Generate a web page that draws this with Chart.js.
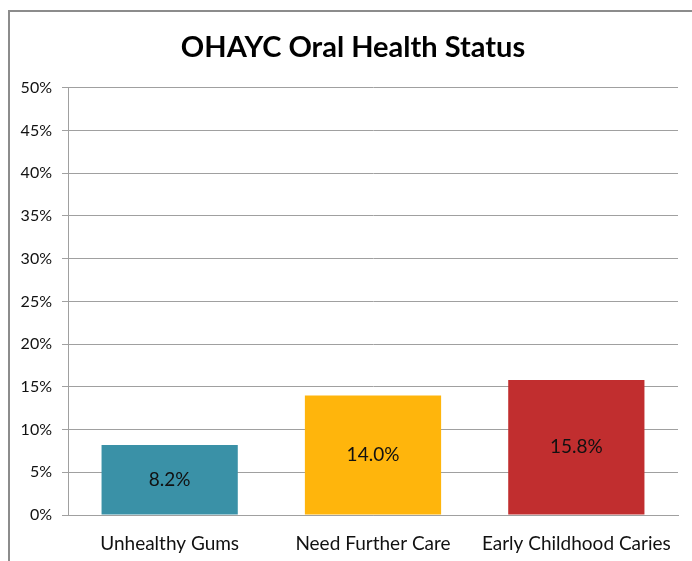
<!DOCTYPE html>
<html>
<head>
<meta charset="utf-8">
<script src="https://cdn.jsdelivr.net/npm/chart.js@4.4.1/dist/chart.umd.min.js"></script>
<style>
    body { margin: 0; background: #fff; }
    #marco { position: absolute; left: 8px; top: 10px; width: 720px; height: 600px; border: 2px solid #8c8c8c; }
    #grafico { position: absolute; left: 0; top: 0; }
</style>
</head>
<body>
<div id="marco"></div>
<canvas id="grafico" width="692" height="561"></canvas>
<script>
// Datos del gráfico
const categorias = ["Unhealthy Gums", "Need Further Care", "Early Childhood Caries"];
const valores = [8.2, 14.0, 15.8];
const colores = ["#3a91a7", "#ffb50c", "#c12e2f"];
const TITULO = "OHAYC Oral Health Status";

const FUENTE = "Lato, 'Open Sans', sans-serif";
const GRIS = "#a0a0a0";

// Etiquetas de valor centradas dentro de cada barra
const etiquetasBarras = {
    id: "etiquetasBarras",
    afterDatasetsDraw(chart) {
        const ctx = chart.ctx;
        const meta = chart.getDatasetMeta(0);
        ctx.save();
        ctx.font = "19px " + FUENTE;
        ctx.fillStyle = "#111";
        ctx.textAlign = "center";
        ctx.textBaseline = "middle";
        meta.data.forEach((bar, i) => {
            const y = (bar.y + bar.base) / 2;
            ctx.fillText(valores[i].toFixed(1) + "%", bar.x, y);
        });
        ctx.restore();
    }
};

new Chart(document.getElementById("grafico").getContext("2d"), {
    type: "bar",
    data: {
        labels: categorias,
        datasets: [{ data: valores, backgroundColor: colores, barPercentage: 0.67, categoryPercentage: 1 }]
    },
    options: {
        responsive: false,
        animation: false,
        layout: { padding: { left: 14, right: 0, top: 0, bottom: 0 } },
        plugins: {
            legend: { display: false },
            tooltip: { enabled: false },
            title: {
                display: true,
                text: TITULO,
                color: "#000",
                font: { family: FUENTE, size: 29, weight: "bold" },
                padding: { top: 30, bottom: 23 }
            }
        },
        scales: {
            x: {
                grid: { display: false, drawTicks: false },
                border: { display: true, color: GRIS },
                ticks: { color: "#111", font: { family: FUENTE, size: 19 }, padding: 17, maxRotation: 0 },
                afterFit(scale) { scale.height = 46; }
            },
            y: {
                min: 0,
                max: 50,
                grid: { color: GRIS, tickLength: 6, drawTicks: true },
                border: { display: true, color: GRIS },
                ticks: {
                    stepSize: 5,
                    color: "#111",
                    padding: 10,
                    font: { family: FUENTE, size: 16 },
                    callback: v => v + "%"
                },
                afterFit(scale) { scale.width = 54; }
            },
            // eje vacío a la derecha, solo reserva margen
            derecha: {
                position: "right",
                min: 0,
                max: 1,
                grid: { display: false, drawTicks: false },
                border: { display: false },
                ticks: { display: false },
                afterFit(scale) { scale.width = 14; }
            }
        }
    },
    plugins: [etiquetasBarras]
});
</script>
</body>
</html>
